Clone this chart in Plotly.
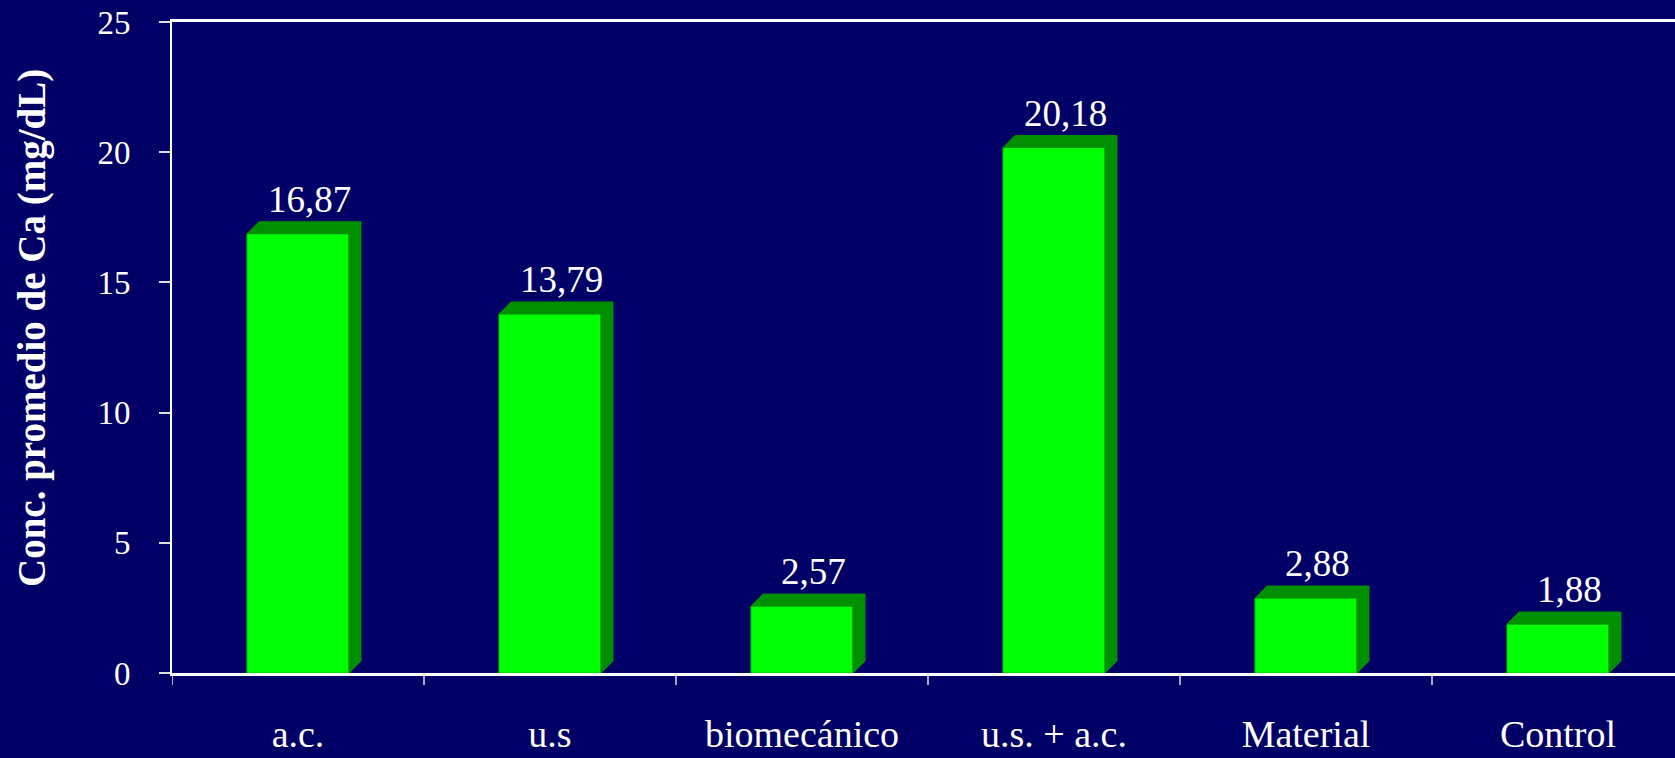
import plotly.graph_objects as go

categories = ["a.c.", "u.s", "biomecánico", "u.s. + a.c.", "Material", "Control"]
values = [16.87, 13.79, 2.57, 20.18, 2.88, 1.88]
value_labels = ["16,87", "13,79", "2,57", "20,18", "2,88", "1,88"]
y_ticks = [0, 5, 10, 15, 20, 25]
y_title = "Conc. promedio de Ca (mg/dL)"

W, H = 1675, 758
ML, MR, MT, MB = 172, 0, 22, 85
BAND_PX = 252.0
PLOT_W = W - ML - MR
PLOT_H = H - MT - MB
x_min = -0.5
x_max = x_min + PLOT_W / BAND_PX
y_max = 25
PX_PER_Y = PLOT_H / y_max

BG = "#000066"
FRONT = "#00FF00"
DARK = "#008F00"
FONT = "Times New Roman, Liberation Serif, serif"

bar_w = 0.405
depth_px = 12
dx = depth_px / BAND_PX
dy = depth_px / PX_PER_Y

fig = go.Figure()

# 3D depth (top + side faces) built from the data values
for i, v in enumerate(values):
    x0 = i - bar_w / 2
    x1 = i + bar_w / 2
    xs = [x0, x0 + dx, x1 + dx, x1 + dx, x1, x1, x0]
    ys = [v, v + dy, v + dy, dy, 0, v, v]
    fig.add_trace(go.Scatter(
        x=xs, y=ys, mode="lines", fill="toself", fillcolor=DARK,
        line=dict(color=DARK, width=1), hoverinfo="skip", showlegend=False,
    ))

fig.add_trace(go.Bar(
    x=list(range(len(categories))), y=values, width=bar_w,
    marker=dict(color=FRONT, line=dict(color="#00C000", width=1)),
    showlegend=False, hoverinfo="skip",
))

for i, (v, t) in enumerate(zip(values, value_labels)):
    fig.add_annotation(
        x=i + 0.045, y=v, text=t, showarrow=False,
        xanchor="center", yanchor="bottom", yshift=12,
        font=dict(family=FONT, size=37, color="white"),
    )

# y-axis title
fig.add_annotation(
    xref="paper", yref="paper", x=(32 - ML) / PLOT_W, y=(H - MB - 328) / PLOT_H,
    text="<b>" + y_title + "</b>", textangle=-90, showarrow=False,
    xanchor="center", yanchor="middle",
    font=dict(family=FONT, size=39, color="white"),
)

fig.update_layout(
    width=W, height=H,
    margin=dict(l=ML, r=MR, t=MT, b=MB, autoexpand=False),
    paper_bgcolor=BG, plot_bgcolor=BG,
    font=dict(family=FONT, color="white"),
    xaxis=dict(
        range=[x_min, x_max], automargin=False,
        tickmode="array", tickvals=list(range(len(categories))), ticktext=categories,
        showgrid=False, zeroline=False,
        showline=True, linecolor="white", linewidth=2.5, mirror=True,
        ticks="", tickfont=dict(family=FONT, size=38, color="white"),
        ticklabelstandoff=26,
    ),
    yaxis=dict(
        range=[0, y_max], tickvals=y_ticks, automargin=False,
        showgrid=False, zeroline=False,
        showline=True, linecolor="white", linewidth=2,
        ticks="outside", ticklen=11, tickwidth=1.5, tickcolor="#e0e0e0",
        tickfont=dict(family=FONT, size=33, color="white"),
        ticklabelstandoff=22,
    ),
)

# category separator ticks on the x axis
for k in range(len(categories) + 1):
    fig.add_shape(type="line", xref="x", yref="paper",
                  x0=k - 0.5, x1=k - 0.5, y0=0, y1=-12 / PLOT_H,
                  line=dict(color="#e0e0e0", width=1.5))

fig.write_html(
    "out.html",
    config={"displayModeBar": False},
    post_script="document.body.style.margin='0';document.body.style.background='" + BG + "';",
)
